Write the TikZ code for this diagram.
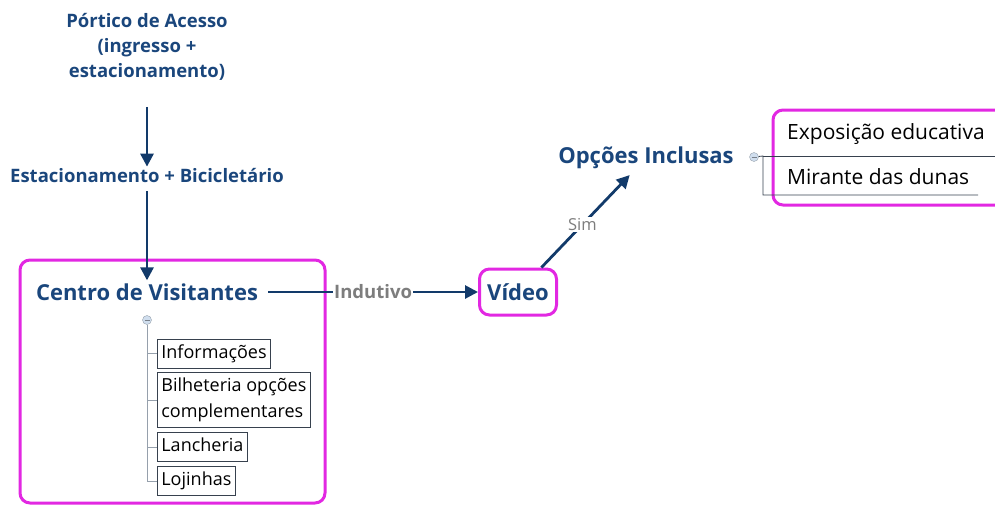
\documentclass[tikz,border=0pt]{standalone}
\usepackage{fontspec}
\setmainfont{Open Sans}
\usetikzlibrary{arrows.meta,positioning,shapes.geometric}
\definecolor{navy}{RGB}{18,58,106}
\definecolor{titleblue}{RGB}{26,70,124}
\definecolor{framepink}{RGB}{226,40,226}
\definecolor{labelgray}{RGB}{125,125,125}
\definecolor{treegray}{RGB}{150,160,172}
\definecolor{boxgray}{RGB}{55,65,78}
\definecolor{togglefill}{RGB}{208,222,238}

\begin{document}
\begin{tikzpicture}[x=1pt, y=-1pt,
  heading/.style={text=titleblue, font=\fontsize{18.5}{25}\selectfont\bfseries, align=center, inner sep=2pt},
  bighead/.style={text=titleblue, font=\fontsize{22}{26}\selectfont\bfseries, inner xsep=10pt, inner ysep=3pt},
  link/.style={draw=navy, line width=2.8pt, -{Triangle[length=13pt,width=13pt]}},
  edgelabel/.style={text=labelgray, fill=white, inner sep=1pt},
  frame/.style={draw=framepink, line width=3pt, rounded corners=10pt},
  item/.style={draw=boxgray, line width=0.8pt, align=left, inner xsep=4pt, inner ysep=5pt,
    text height=14pt, text depth=5pt, font=\fontsize{18}{26}\selectfont},
  leaf/.style={inner xsep=0pt, inner ysep=2pt, font=\fontsize{21}{24}\selectfont},
  tree/.style={draw=treegray, line width=0.8pt},
  toggle/.style={circle, draw=treegray, fill=togglefill, minimum size=9pt, inner sep=0pt,
    path picture={\draw[treegray!80!black] ([xshift=-2.5pt]path picture bounding box.center) -- ([xshift=2.5pt]path picture bounding box.center);}}]
\useasboundingbox (0,0) rectangle (995,506);

% Entrance and parking
\node[heading] (portico) at (147,47) {Pórtico de Acesso\\(ingresso +\\estacionamento)};
\node[heading] (estac) at (147,176) {Estacionamento + Bicicletário};

% Visitor centre
\draw[frame] (20,260) rectangle (325,503);
\node[bighead] (centro) at (147,292) {Centro de Visitantes};
\node[toggle] (tgA) at (147,320) {};
\node[item, anchor=west] (info) at (157,353.5) {Informações};
\node[item, text height=40pt, below right=4pt and 0pt of info.south west] (ticket) {Bilheteria opções\\complementares};
\node[item, below right=4pt and 0pt of ticket.south west] (snack) {Lancheria};
\node[item, below right=4pt and 0pt of snack.south west] (shop) {Lojinhas};

\draw[tree] (tgA) -- (tgA |- shop.west) -- (shop.west);
\foreach \n in {info,ticket,snack}
  \draw[tree] (tgA |- \n.west) -- (\n.west);

% Video
\node[bighead, frame, minimum width=77pt, minimum height=46pt, inner xsep=6pt] (video) at (518,292) {Vídeo};
\node[bighead] (opcoes) at (646,158) {Opções Inclusas};

% Included options
\draw[frame] (773,110) rectangle (1010,205);
\node[toggle] (tgB) at (754,157) {};
\node[leaf, anchor=west] (expo) at (787,134) {Exposição educativa};
\node[leaf, anchor=west] (mirante) at (787,177) {Mirante das dunas};
\coordinate (branch) at (763,156);
\draw[boxgray, line width=0.8pt] (tgB) -- (branch) -- (branch |- 0,195) -- ++(215,0);
\draw[boxgray, line width=0.8pt] (branch) -- ++(240,0);

% Flow
\draw[link, shorten <=24pt] (portico) -- (estac);
\draw[link, shorten <=6pt] (estac) -- (centro);
\draw[link] (centro) -- node[edgelabel, font=\fontsize{18.5}{20}\selectfont\bfseries]{Indutivo} (video);
\draw[link, shorten >=4pt] (video) -- node[edgelabel, font=\fontsize{16.5}{18}\selectfont, pos=0.45]{Sim} (opcoes);
\end{tikzpicture}
\end{document}
